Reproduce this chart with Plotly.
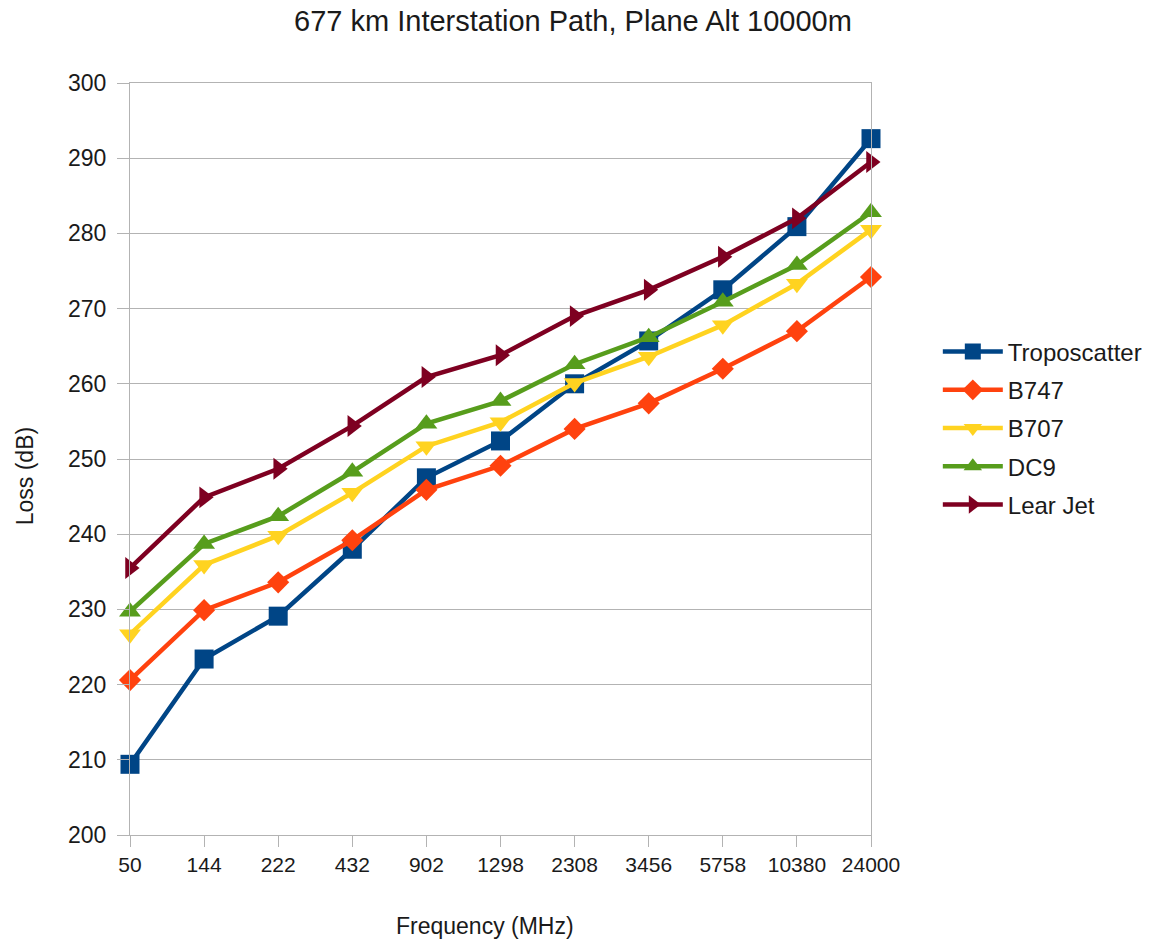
import plotly.graph_objects as go

freqs = ["50", "144", "222", "432", "902", "1298", "2308", "3456", "5758", "10380", "24000"]
troposcatter = [209.4, 223.4, 229.1, 238.0, 247.5, 252.4, 260.0, 265.7, 272.5, 280.9, 292.6]
b747 = [220.6, 229.9, 233.6, 239.2, 245.9, 249.1, 254.0, 257.4, 262.0, 267.0, 274.2]
b707 = [226.7, 235.9, 239.8, 245.5, 251.7, 254.9, 260.1, 263.6, 267.8, 273.3, 280.5]
dc9 = [229.7, 238.7, 242.4, 248.3, 254.7, 257.7, 262.6, 266.2, 270.9, 275.8, 282.8]
learjet = [235.5, 244.9, 248.7, 254.4, 260.9, 263.8, 269.0, 272.5, 276.9, 282.0, 289.5]

series = [
    ("Troposcatter", troposcatter, "#004586", "square", 19),
    ("B747", b747, "#ff420e", "diamond", 17),
    ("B707", b707, "#ffd320", "triangle-down", 19),
    ("DC9", dc9, "#579d1c", "triangle-up", 19),
    ("Lear Jet", learjet, "#7e0021", "triangle-right", 19),
]

fig = go.Figure()
for name, vals, color, sym, size in series:
    fig.add_trace(go.Scatter(
        x=freqs, y=vals, name=name, mode="lines+markers",
        line=dict(color=color, width=4.5),
        marker=dict(symbol=sym, size=size, color=color),
        cliponaxis=False, legendgroup=name,
    ))

font = "Liberation Sans, Arial, sans-serif"
txt = "#1a1a1a"
L, R, T, B = 130, 286, 83, 106
pw, ph = 1159 - L - R, 941 - T - B

fig.update_layout(
    width=1159, height=941,
    paper_bgcolor="white", plot_bgcolor="white",
    margin=dict(l=L, r=R, t=T, b=B),
    title=dict(text="677 km Interstation Path, Plane Alt 10000m", x=573 / 1159, xref="container",
               xanchor="center", y=1 - 21 / 941, yanchor="middle",
               font=dict(family=font, size=29, color=txt)),
    font=dict(family=font, size=22, color=txt),
    showlegend=True,
    legend=dict(x=(940 - L) / pw, xanchor="left", y=(835 - 428) / ph, yanchor="middle",
                font=dict(size=24, color=txt), itemwidth=60,
                tracegroupgap=4, bgcolor="rgba(0,0,0,0)", borderwidth=0),
    xaxis=dict(type="category", range=[0, 10], showgrid=False,
               showline=True, linecolor="#b3b3b3", linewidth=1, mirror=True,
               ticks="outside", ticklen=11, tickcolor="#b3b3b3",
               tickfont=dict(size=21, color=txt)),
    yaxis=dict(range=[200, 300], dtick=10, showgrid=True, gridcolor="#b3b3b3", gridwidth=1,
               showline=True, linecolor="#b3b3b3", linewidth=1, mirror=True,
               ticks="outside", ticklen=12, tickcolor="#b3b3b3", ticklabelstandoff=6,
               tickfont=dict(size=23, color=txt), zeroline=False),
    annotations=[
        dict(text="Frequency (MHz)", xref="paper", yref="paper",
             x=(486 - L) / pw, y=(835 - 926) / ph, xanchor="center", yanchor="middle",
             showarrow=False, font=dict(size=23, color=txt)),
        dict(text="Loss (dB)", xref="paper", yref="paper", textangle=-90,
             x=(25 - L) / pw, y=(835 - 476) / ph, xanchor="center", yanchor="middle",
             showarrow=False, font=dict(size=23, color=txt)),
    ],
)

fig.write_html("out.html")
